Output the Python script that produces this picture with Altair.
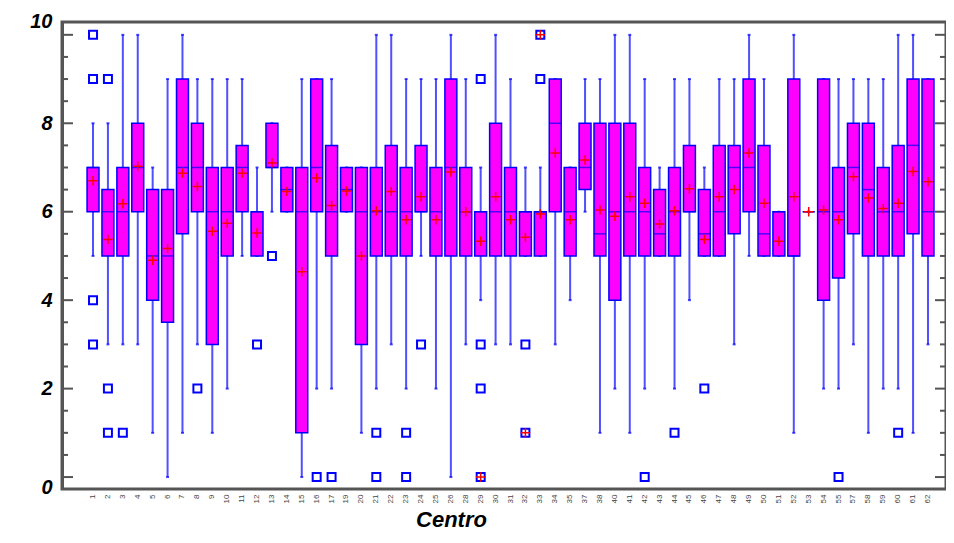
import altair as alt
import pandas as pd

# ---- data ----
centros = ["1", "2", "3", "4", "5", "6", "7", "8", "9", "10", "11", "12", "13", "14", "15",
           "16", "17", "19", "20", "21", "22", "23", "24", "25", "26", "28", "29", "30", "31",
           "32", "33", "34", "35", "37", "38", "40", "41", "42", "43", "44", "45", "46", "47",
           "48", "49", "50", "51", "52", "53", "54", "55", "57", "58", "59", "60", "61", "62"]
whisk_lo = [5, 3, 3, 3, 1, 0, 1, 3, 1, 2, 5, 5, 6, 6, 0,
            2, 2, 6, 1, 2, 3, 2, 5, 2, 0, 3, 4, 3, 3,
            5, 5, 3, 4, 6, 1, 2, 1, 2, 5, 2, 4, 5, 5,
            3, 5, 5, 5, 1, 6, 2, 2, 3, 1, 2, 2, 1, 3]
q1 = [6, 5, 5, 6, 4, 3.5, 5.5, 6, 3, 5, 6, 5, 7, 6, 1,
      6, 5, 6, 3, 5, 5, 5, 6, 5, 5, 5, 5, 5, 5,
      5, 5, 6, 5, 6.5, 5, 4, 5, 5, 5, 5, 6, 5, 5,
      5.5, 6, 5, 5, 5, 6, 4, 4.5, 5.5, 5, 5, 5, 5.5, 5]
median = [7, 6, 6, 7, 5, 5, 7, 7, 6, 6, 7, 6, 7, 6.5, 6,
          7, 6, 6.5, 6, 6, 6, 6, 6, 6, 7, 6, 6, 6, 6,
          6, 6, 8, 6, 7, 5.5, 6, 6, 6, 5.5, 6, 6, 5.5, 6,
          7, 7, 5.5, 6, 5, 6, 6, 6, 7, 6.5, 6, 6, 7.5, 6]
q3 = [7, 6.5, 7, 8, 6.5, 6.5, 9, 8, 7, 7, 7.5, 6, 8, 7, 7,
      9, 7.5, 7, 7, 7, 7.5, 7, 7.5, 7, 9, 7, 6, 8, 7,
      6, 6, 9, 7, 8, 8, 8, 8, 7, 6.5, 7, 7.5, 6.5, 7.5,
      7.5, 9, 7.5, 6, 9, 6, 9, 7, 8, 8, 7, 7.5, 9, 9]
whisk_hi = [8, 8, 10, 10, 7, 9, 10, 9, 9, 9, 9, 7, 8, 7, 9,
            9, 9, 7, 7, 10, 10, 9, 9, 9, 10, 9, 7, 10, 9,
            7, 7, 9, 7, 9, 9, 10, 10, 9, 7, 9, 9, 7, 9,
            9, 10, 9, 6, 10, 6, 9, 9, 9, 9, 9, 10, 10, 9]
mean = [6.7, 5.37, 6.18, 7.03, 4.9, 5.17, 6.87, 6.57, 5.56, 5.74, 6.87, 5.52, 7.1, 6.46, 4.64,
        6.76, 6.14, 6.47, 5.0, 6.02, 6.46, 5.82, 6.34, 5.82, 6.9, 6.0, 5.33, 6.34, 5.82,
        5.42, 5.95, 7.33, 5.82, 7.17, 6.04, 5.9, 6.34, 6.19, 5.72, 6.02, 6.52, 5.37, 6.34,
        6.5, 7.33, 6.19, 5.33, 6.34, 6.0, 6.04, 5.82, 6.79, 6.31, 6.07, 6.19, 6.91, 6.68]

outlier_centro = ["1", "1", "1", "1", "2", "2", "2", "3", "8", "12", "13",
                  "16", "17", "21", "21", "23", "23", "24", "29", "29", "29",
                  "32", "33", "42", "44", "46", "55", "60"]
outlier_value = [10, 9, 4, 3, 9, 2, 1, 1, 2, 3, 5,
                 0, 0, 1, 0, 1, 0, 3, 9, 3, 2,
                 3, 9, 0, 1, 2, 0, 1]
far_centro = ["29", "32", "33"]
far_value = [0, 1, 10]

major_ticks = [0, 2, 4, 6, 8, 10]
minor_ticks = [0.5, 1, 1.5, 2.5, 3, 3.5, 4.5, 5, 5.5, 6.5, 7, 7.5, 8.5, 9, 9.5]

W, H = 884, 467

boxes = pd.DataFrame({"centro": centros, "lo": whisk_lo, "q1": q1, "med": median,
                      "q3": q3, "hi": whisk_hi, "mean": mean})
outs = pd.DataFrame({"centro": outlier_centro, "v": outlier_value})
fars = pd.DataFrame({"centro": far_centro, "v": far_value})

FONT = "Liberation Sans"
BLUE = "#0000FF"
WHISK = "#5050FF"
MAG = "#FF00FF"
RED = "#FF0000"
GRAY = "#555555"

xenc = alt.X("centro:N", sort=centros,
             scale=alt.Scale(paddingInner=0.2, paddingOuter=0.5, range=[17.6, 879.4]),
             axis=alt.Axis(labelAngle=270, labelFontSize=8, labelColor="#444444", labelFont=FONT,
                           ticks=False, domain=False, labelPadding=5,
                           title="Centro", titleFont=FONT, titleFontSize=22,
                           titleFontWeight="bold", titleFontStyle="italic", titleColor="black",
                           titleX=389, titleY=37, titleBaseline="alphabetic", titleAlign="center"))
yscale = alt.Scale(domain=[-0.27, 10.29], nice=False, zero=False)
yaxis = alt.Axis(values=major_ticks, labelFont=FONT, labelFontSize=20, labelFontWeight="bold",
                 labelFontStyle="italic", labelColor="black", ticks=False, grid=False,
                 domainColor=GRAY, domainWidth=3, labelPadding=10, title=None,
                 labelOffset={"condition": {"test": "datum.value == 10", "value": -13}, "value": 0},
                 labelBaseline={"condition": {"test": "datum.value == 0", "value": "top"},
                                "value": "middle"})

base = alt.Chart(boxes)

whisk_low = base.mark_rule(color=WHISK, strokeWidth=2).encode(
    x=xenc, y=alt.Y("lo:Q", scale=yscale, axis=yaxis), y2="q1:Q")
whisk_high = base.mark_rule(color=WHISK, strokeWidth=2).encode(
    x=xenc, y=alt.Y("q3:Q", scale=yscale, axis=yaxis), y2="hi:Q")
cap_lo = base.mark_tick(color=BLUE, size=3, thickness=2, orient="horizontal").encode(
    x=xenc, y=alt.Y("lo:Q", scale=yscale, axis=yaxis))
cap_hi = base.mark_tick(color=BLUE, size=3, thickness=2, orient="horizontal").encode(
    x=xenc, y=alt.Y("hi:Q", scale=yscale, axis=yaxis))
box = base.mark_bar(fill=MAG, stroke=BLUE, strokeWidth=1.5).encode(
    x=xenc, y=alt.Y("q1:Q", scale=yscale, axis=yaxis), y2="q3:Q")
med = base.mark_tick(color=BLUE, size=12, thickness=1.5, orient="horizontal").encode(
    x=xenc, y=alt.Y("med:Q", scale=yscale, axis=yaxis))
plus = "M-1,0L1,0M0,-1L0,1"
mn = base.mark_point(shape=plus, stroke=RED, strokeWidth=1.5, size=90, filled=False,
                     opacity=1).encode(
    x=xenc, y=alt.Y("mean:Q", scale=yscale, axis=yaxis))
out = alt.Chart(outs).mark_point(shape="square", filled=False, stroke=BLUE, strokeWidth=2,
                                 size=64, opacity=1).encode(
    x=xenc, y=alt.Y("v:Q", scale=yscale, axis=yaxis))
far_sq = alt.Chart(fars).mark_point(shape="square", filled=False, stroke=BLUE, strokeWidth=2,
                                    size=64, opacity=1).encode(
    x=xenc, y=alt.Y("v:Q", scale=yscale, axis=yaxis))
far_plus = alt.Chart(fars).mark_point(shape=plus, stroke=RED, strokeWidth=1.5, size=90,
                                      filled=False, opacity=1).encode(
    x=xenc, y=alt.Y("v:Q", scale=yscale, axis=yaxis))

maj = pd.DataFrame({"t": major_ticks})
mnr = pd.DataFrame({"t": minor_ticks})
tl_major = alt.Chart(maj).mark_rule(color=GRAY, strokeWidth=2).encode(
    y=alt.Y("t:Q", scale=yscale, axis=yaxis), x=alt.value(0), x2=alt.value(11))
tl_minor = alt.Chart(mnr).mark_rule(color=GRAY, strokeWidth=2).encode(
    y=alt.Y("t:Q", scale=yscale, axis=yaxis), x=alt.value(0), x2=alt.value(6))
tr_major = alt.Chart(maj).mark_rule(color=GRAY, strokeWidth=2).encode(
    y=alt.Y("t:Q", scale=yscale, axis=yaxis), x=alt.value(W - 11), x2=alt.value(W))
tr_minor = alt.Chart(mnr).mark_rule(color=GRAY, strokeWidth=2).encode(
    y=alt.Y("t:Q", scale=yscale, axis=yaxis), x=alt.value(W - 6), x2=alt.value(W))

chart = alt.layer(
    tl_major, tl_minor, tr_major, tr_minor,
    whisk_low, whisk_high, cap_lo, cap_hi, box, med, mn, out, far_sq, far_plus
).properties(
    width=W, height=H,
    padding={"left": 54, "top": 14, "right": 0, "bottom": 46},
    autosize=alt.AutoSizeParams(type="none"),
    background="white",
).configure_view(
    stroke=GRAY, strokeWidth=3
)

chart.save("out.html", embed_options={"renderer": "svg", "actions": False})
